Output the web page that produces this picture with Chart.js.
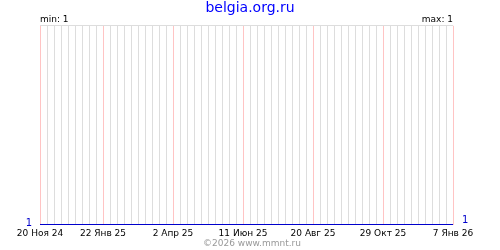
<!DOCTYPE html>
<html>
<head>
<meta charset="utf-8">
<script src="https://cdn.jsdelivr.net/npm/chart.js@4/dist/chart.umd.min.js"></script>
<style>
  html, body { margin: 0; padding: 0; background: #fff; }
  #wrap { width: 500px; height: 250px; position: relative; }
</style>
</head>
<body>
<div id="wrap"><canvas id="chart"></canvas></div>
<script>
// days counted from 20 Nov 2024
const dayOffsets = [0, 413];
const visits = [1, 1];

const labelDays = [0, 63, 133, 203, 273, 343, 413];
const labelTexts = ['20 Ноя 24', '22 Янв 25', '2 Апр 25', '11 Июн 25', '20 Авг 25', '29 Окт 25', '7 Янв 26'];

const siteTitle = 'belgia.org.ru';
const minText = 'min: 1';
const maxText = 'max: 1';
const copyright = '©2026 www.mmnt.ru';

const FONT = '"DejaVu Sans", Verdana, sans-serif';

const isLabelDay = (v) => labelDays.includes(Math.round(v));

// extra texts: min / max above the plot, copyright below
const extraText = {
    id: 'extraText',
    afterDraw(chart) {
        const { ctx, chartArea } = chart;
        ctx.save();
        ctx.font = '9px ' + FONT;
        ctx.fillStyle = '#000';
        ctx.textBaseline = 'alphabetic';
        ctx.textAlign = 'left';
        ctx.fillText(minText, chartArea.left, 22);
        ctx.textAlign = 'right';
        ctx.fillText(maxText, chartArea.right, 22);

        ctx.fillStyle = '#999';
        ctx.textAlign = 'center';
        ctx.fillText(copyright, 252, 246);
        ctx.restore();
    }
};

new Chart(document.getElementById('chart'), {
    type: 'line',
    data: {
        datasets: [{
            data: dayOffsets.map((d, i) => ({ x: d, y: visits[i] })),
            borderColor: '#0000cc',
            borderWidth: 2,
            pointRadius: 0,
            tension: 0,
            yAxisID: 'y'
        }]
    },
    options: {
        responsive: true,
        maintainAspectRatio: false,
        animation: false,
        layout: { padding: 0 },
        plugins: {
            legend: { display: false },
            tooltip: { enabled: false },
            title: {
                display: true,
                text: siteTitle,
                color: '#0000ff',
                font: { family: FONT, size: 14, weight: 'normal' },
                padding: { top: 0, bottom: 9 }
            }
        },
        scales: {
            x: {
                type: 'linear',
                min: 0,
                max: 413,
                afterFit: (s) => { s.height = 25; },
                border: { display: false },
                grid: {
                    drawTicks: false,
                    color: (c) => isLabelDay(c.tick.value) ? '#ffc4c4' : '#dddddd',
                    lineWidth: 1
                },
                ticks: {
                    stepSize: 7,
                    autoSkip: false,
                    maxRotation: 0,
                    padding: 3,
                    color: '#000',
                    font: { family: FONT, size: 9 },
                    callback: (v) => {
                        const i = labelDays.indexOf(Math.round(v));
                        return i >= 0 ? labelTexts[i] : '';
                    }
                }
            },
            y: {
                position: 'left',
                min: 1,
                max: 2,
                afterFit: (s) => { s.width = 40; },
                border: { display: false },
                grid: {
                    drawTicks: false,
                    color: (c) => c.tick.value === 2 ? '#dddddd' : 'rgba(0,0,0,0)'
                },
                ticks: {
                    stepSize: 1,
                    padding: 8,
                    labelOffset: -2,
                    color: '#0000cc',
                    font: { family: FONT, size: 10 },
                    callback: (v) => v === 1 ? '1' : ''
                }
            },
            y2: {
                position: 'right',
                min: 1,
                max: 2,
                afterFit: (s) => { s.width = 47; },
                border: { display: false },
                grid: { display: false, drawTicks: false },
                ticks: {
                    stepSize: 1,
                    padding: 9,
                    labelOffset: -5,
                    color: '#0000cc',
                    font: { family: FONT, size: 10 },
                    callback: (v) => v === 1 ? '1' : ''
                }
            }
        }
    },
    plugins: [extraText]
});
</script>
</body>
</html>
